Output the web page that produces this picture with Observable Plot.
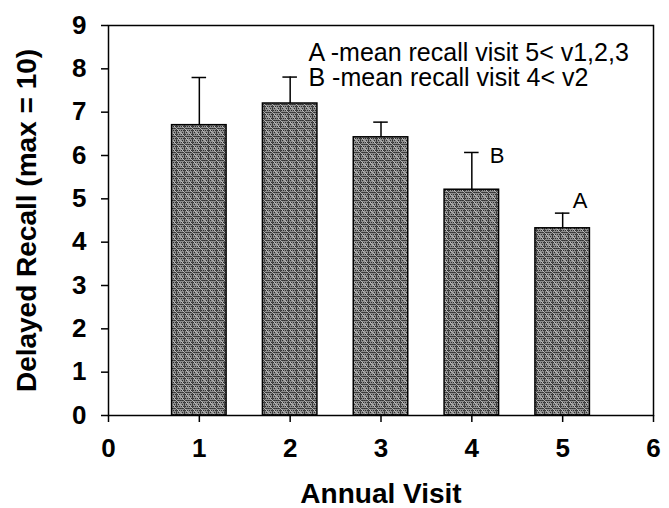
<!DOCTYPE html>
<html>
<head>
<meta charset="utf-8">
<script src="https://cdn.jsdelivr.net/npm/d3@7"></script>
<script src="https://cdn.jsdelivr.net/npm/@observablehq/plot@0.6"></script>
<style>
  html, body { margin: 0; padding: 0; background: #fff; }
  #chart { width: 669px; height: 508px; }
</style>
</head>
<body>
<div id="chart"></div>
<script>
// Data
const visits = [1, 2, 3, 4, 5];
const meanRecall = [6.7, 7.2, 6.42, 5.21, 4.32];
const upperError = [7.8, 7.81, 6.77, 6.07, 4.67];
const sigVisits = [4, 5];
const sigLetters = ["B", "A"];
const legendLines = ["A -mean recall visit 5< v1,2,3", "B -mean recall visit 4< v2"];
const xTicks = [0, 1, 2, 3, 4, 5, 6];
const yTicks = [0, 1, 2, 3, 4, 5, 6, 7, 8, 9];
const xTitle = "Annual Visit";
const yTitle = "Delayed Recall (max = 10)";

const rows = visits.map((v, i) => ({visit: v, mean: meanRecall[i], upper: upperError[i]}));
const sig = sigVisits.map((v, i) => ({visit: v, letter: sigLetters[i], upper: upperError[visits.indexOf(v)]}));

const font = "'Liberation Sans', Arial, Helvetica, sans-serif";
const halfBar = 0.3;
const halfCap = 0.08;

const svg = Plot.plot({
  width: 669,
  height: 508,
  marginLeft: 108,
  marginRight: 16,
  marginTop: 25,
  marginBottom: 93,
  style: {fontFamily: font, background: "#fff", color: "#000"},
  x: {domain: [0, 6], label: null},
  y: {domain: [0, 9], label: null},
  marks: [
    Plot.rectY(rows, {x1: d => d.visit - halfBar, x2: d => d.visit + halfBar, y1: 0, y2: "mean", fill: "url(#hatch)", stroke: "#000", strokeWidth: 1.5}),
    Plot.ruleX(rows, {x: "visit", y1: "mean", y2: "upper", stroke: "#000", strokeWidth: 1.5}),
    Plot.ruleY(rows, {y: "upper", x1: d => d.visit - halfCap, x2: d => d.visit + halfCap, stroke: "#000", strokeWidth: 1.5}),
    Plot.frame({stroke: "#000", strokeWidth: 1.5}),
    Plot.axisX({ticks: xTicks, tickFormat: d => String(d), tickSize: 7, tickPadding: 16, fontSize: 26, fontWeight: "bold", strokeWidth: 1.5, label: null}),
    Plot.axisY({ticks: yTicks, tickFormat: d => String(d), tickSize: 7, tickPadding: 15, fontSize: 26, fontWeight: "bold", strokeWidth: 1.5, label: null}),
    Plot.text(sig.filter(d => d.letter === "B"), {x: "visit", y: "upper", text: "letter", textAnchor: "start", dx: 18, dy: 3, fontSize: 22, fill: "#000"}),
    Plot.text(sig.filter(d => d.letter === "A"), {x: "visit", y: "upper", text: "letter", textAnchor: "start", dx: 10, dy: -12, fontSize: 22, fill: "#000"}),
    Plot.text([legendLines.join("\n")], {frameAnchor: "top-left", textAnchor: "start", lineAnchor: "top", dx: 200, dy: 17, lineHeight: 1.02, fontSize: 25, fill: "#000"}),
    Plot.text([xTitle], {frameAnchor: "bottom", textAnchor: "middle", lineAnchor: "middle", dy: 79, fontSize: 28, fontWeight: "bold", fill: "#000"}),
    Plot.text([yTitle], {frameAnchor: "left", textAnchor: "middle", lineAnchor: "middle", rotate: -90, dx: -81, fontSize: 28, fontWeight: "bold", fill: "#000"})
  ]
});

// Fill pattern resembling the stippled grey bars
const defs = d3.select(svg).insert("defs", ":first-child");
const pat = defs.append("pattern")
  .attr("id", "hatch")
  .attr("patternUnits", "userSpaceOnUse")
  .attr("width", 8).attr("height", 8);
pat.append("rect").attr("width", 8).attr("height", 8).attr("fill", "#8e8e8e");
for (let i = 0; i < 8; i += 2) {
  for (let j = (i / 2) % 2; j < 8; j += 2) {
    pat.append("rect").attr("x", j).attr("y", i).attr("width", 1).attr("height", 1).attr("fill", "#2e2e2e");
  }
}
pat.append("path").attr("d", "M0,0.5H8M0.5,0V8").attr("stroke", "#333").attr("stroke-width", 0.8);
pat.append("path").attr("d", "M0,0L8,8").attr("stroke", "#c8c8c8").attr("stroke-width", 0.8);

document.getElementById("chart").appendChild(svg);
</script>
</body>
</html>
